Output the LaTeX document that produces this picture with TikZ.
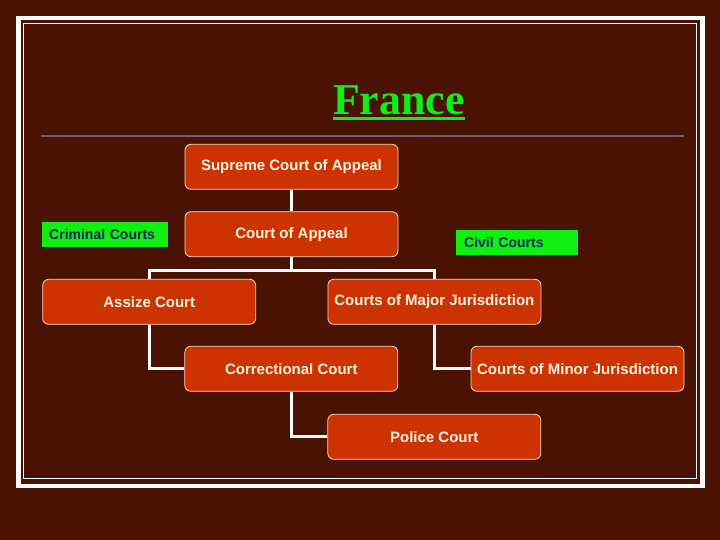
\documentclass[tikz,border=0pt]{standalone}
\usepackage{fontspec}
\setmainfont{Liberation Sans}
\newfontfamily\titlefont{Liberation Serif}
\usepackage{xcolor}
\definecolor{bgbrown}{RGB}{74,18,2}
\definecolor{courtred}{RGB}{204,51,0}
\definecolor{courtedge}{RGB}{245,215,190}
\definecolor{cream}{RGB}{255,242,225}
\definecolor{taggreen}{RGB}{16,240,16}
\definecolor{tagnavy}{RGB}{14,40,92}
\definecolor{rulegray}{RGB}{112,96,128}

\begin{document}
\begin{tikzpicture}[x=1pt, y=-1pt,
    court/.style={draw=courtedge, line width=0.8pt, fill=courtred, rounded corners=6pt,
      minimum width=213pt, minimum height=45pt, text=cream,
      font=\fontsize{15}{18}\selectfont\bfseries},
    tag/.style={fill=taggreen, anchor=west, minimum height=24pt, inner xsep=7pt,
      align=left, text=tagnavy, font=\fontsize{14}{17}\selectfont\bfseries},
    link/.style={draw=white, line width=3pt}]
  \fill[bgbrown] (0,0) rectangle (720,540);
  \draw[white, line width=4.5pt] (18.5,18) rectangle (702.5,486);
  \draw[white, line width=1pt] (23.5,24) rectangle (696,478);
  \draw[rulegray, line width=2pt] (41,136.5) -- (684,136.5);

  \node[anchor=base, inner sep=0pt, text=taggreen, font=\fontsize{44}{50}\selectfont\titlefont\bfseries]
    (ti) at (399,115) {France};
  \draw[taggreen, line width=3pt] ([yshift=-3.5pt]ti.base west) -- ([yshift=-3.5pt]ti.base east);

  \node[court] (cs) at (291.5,166.8) {Supreme Court of Appeal};
  \node[court] (ca) at (291.5,234.2) {Court of Appeal};
  \node[court] (as) at (149.2,301.8) {Assize Court};
  \node[court] (mj) at (434.4,301.8) {Courts of Major Jurisdiction};
  \node[court] (cc) at (291.3,368.8) {Correctional Court};
  \node[court] (mn) at (577.5,368.8) {Courts of Minor Jurisdiction};
  \node[court] (pc) at (434.3,436.8) {Police Court};

  \node[tag, text width=112pt] (cr) at (42,234.5) {Criminal Courts};
  \node[tag, text width=106pt, inner xsep=8pt] (cv) at (456,242.5) {Civil Courts};

  \draw[link] (cs.south) -- (ca.north);
  \draw[link] (ca.south) -- ++(0,13.5) -| (as.north);
  \draw[link] (ca.south) -- ++(0,13.5) -| (mj.north);
  \draw[link] (as.south) |- (cc.west);
  \draw[link] (mj.south) |- (mn.west);
  \draw[link] (cc.south) |- (pc.west);
\end{tikzpicture}
\end{document}
